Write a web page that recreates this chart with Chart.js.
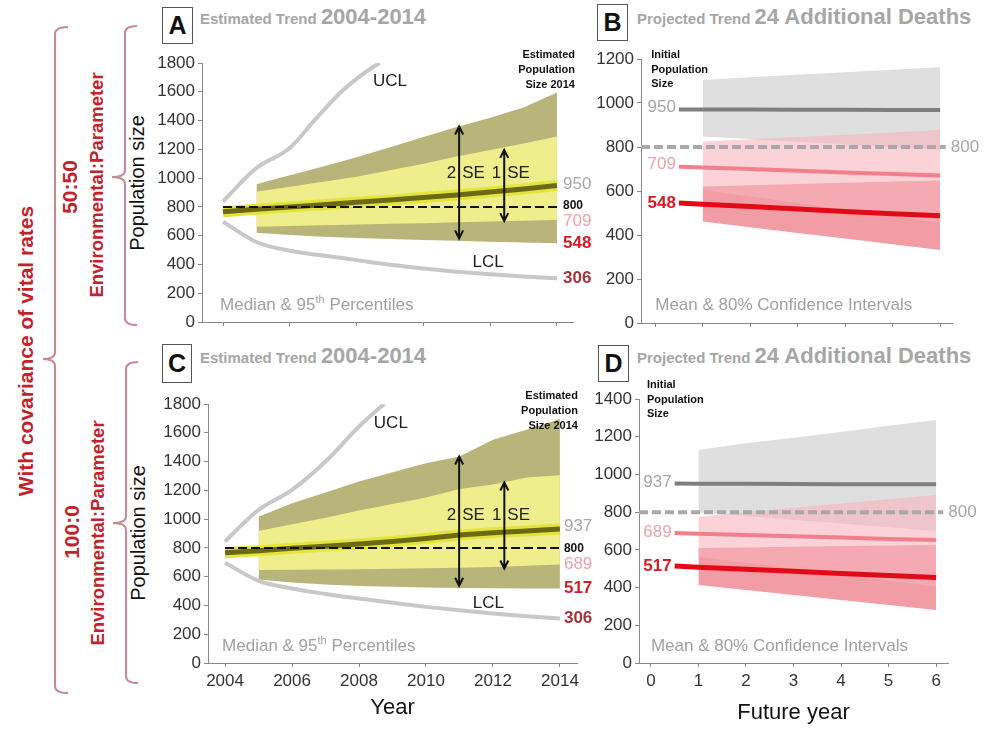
<!DOCTYPE html>
<html>
<head>
<meta charset="utf-8">
<script src="https://cdn.jsdelivr.net/npm/chart.js@4.4.1/dist/chart.umd.min.js"></script>
<style>
body { margin: 0; background: #fff; width: 990px; height: 735px; position: relative; overflow: hidden; font-family: "Liberation Sans", Arial, sans-serif; }
.pane { position: absolute; }
.box { position: absolute; border: 1.5px solid #555; box-sizing: border-box; font-weight: bold; font-size: 25px; color: #111; display: flex; align-items: center; justify-content: center; }
.ttl { position: absolute; color: #a6a6a6; font-weight: bold; white-space: nowrap; line-height: 26px; }
.ttl .s { font-size: 15px; }
.ttl .b { font-size: 22px; }
.rot { position: absolute; white-space: nowrap; transform: translate(-50%, -50%) rotate(-90deg); }
.red { color: #c0232c; font-weight: bold; }
</style>
</head>
<body>

<svg class="pane" style="left:0;top:0" width="160" height="735">
  <g fill="none" stroke="#c98a8f" stroke-width="2">
    <path d="M68 27 Q55 27 55 34 L55 352 Q55 359 43 359 Q55 359 55 366 L55 686 Q55 693 68 693"/>
    <path d="M137 26 Q125 26 125 33 L125 170 Q125 177 112 177 Q125 177 125 184 L125 318 Q125 325 137 325"/>
    <path d="M138 362 Q126 362 126 369 L126 516 Q126 523 113 523 Q126 523 126 530 L126 676 Q126 683 138 683"/>
  </g>
</svg>

<div class="rot red" style="left:26px;top:351px;font-size:21px">With covariance of vital rates</div>
<div class="rot red" style="left:70px;top:187px;font-size:21px">50:50</div>
<div class="rot red" style="left:97px;top:185px;font-size:18.5px">Environmental:Parameter</div>
<div class="rot red" style="left:72px;top:532px;font-size:21px">100:0</div>
<div class="rot red" style="left:98px;top:533px;font-size:18.5px">Environmental:Parameter</div>
<div class="rot" style="left:137px;top:183px;font-size:20px;color:#111">Population size</div>
<div class="rot" style="left:138px;top:533px;font-size:20px;color:#111">Population size</div>

<div class="box" style="left:162px;top:7px;width:31px;height:37px">A</div>
<div class="ttl" style="left:200px;top:4px"><span class="s">Estimated Trend </span><span class="b">2004-2014</span></div>
<div class="box" style="left:597px;top:4px;width:31px;height:37px">B</div>
<div class="ttl" style="left:637px;top:4px"><span class="s">Projected Trend </span><span class="b">24 Additional Deaths</span></div>
<div class="box" style="left:162px;top:344px;width:30px;height:39px">C</div>
<div class="ttl" style="left:200px;top:343px"><span class="s">Estimated Trend </span><span class="b">2004-2014</span></div>
<div class="box" style="left:598px;top:345px;width:31px;height:37px">D</div>
<div class="ttl" style="left:637px;top:343px"><span class="s">Projected Trend </span><span class="b">24 Additional Deaths</span></div>

<div class="pane" style="left:110px;top:44px"><canvas id="chartA" width="485" height="296"></canvas></div>
<div class="pane" style="left:595px;top:44px"><canvas id="chartB" width="395" height="296"></canvas></div>
<div class="pane" style="left:110px;top:380px"><canvas id="chartC" width="485" height="355"></canvas></div>
<div class="pane" style="left:595px;top:380px"><canvas id="chartD" width="395" height="355"></canvas></div>

<script>
const FONT = '"Liberation Sans", Arial, sans-serif';

// ---- Estimated trend panels (A, C) ----
const years = [2004, 2005, 2006, 2007, 2008, 2009, 2010, 2011, 2012, 2013, 2014];
const bandYears = [2005, 2006, 2007, 2008, 2009, 2010, 2011, 2012, 2013, 2014];
const yearTicks = [2004, 2006, 2008, 2010, 2012, 2014];

const medianA = [766, 783, 800, 815, 832, 848, 865, 882, 903, 925, 948];
const outerHiA = [957, 1020, 1080, 1145, 1215, 1285, 1355, 1420, 1490, 1595];
const innerHiA = [906, 940, 975, 1010, 1055, 1100, 1150, 1195, 1240, 1289];
const innerLoA = [662, 667, 672, 677, 682, 687, 693, 698, 703, 709];
const outerLoA = [620, 605, 592, 583, 576, 570, 565, 558, 552, 547];
const uclYearsA = [2004, 2004.5, 2005, 2006, 2006.8, 2007.6, 2008.5, 2008.7];
const uclA = [836, 960, 1070, 1210, 1418, 1612, 1774, 1800];
const lclA = [697, 556, 495, 462, 430, 398, 372, 350, 332, 316, 304];
const seXA = [2011.07, 2012.42];
const seLoA = [581, 701];
const seHiA = [1359, 1196];

const medianC = [766, 780, 797, 812, 827, 845, 866, 890, 906, 918, 932];
const outerHiC = [1017, 1110, 1185, 1261, 1325, 1389, 1435, 1551, 1621, 1695];
const innerHiC = [917, 965, 1010, 1060, 1105, 1150, 1210, 1240, 1290, 1305];
const innerLoC = [646, 648, 650, 652, 655, 658, 662, 668, 676, 685];
const outerLoC = [580, 560, 545, 535, 530, 525, 521, 519, 517, 517];
const uclYearsC = [2004, 2004.5, 2005, 2006, 2007, 2008, 2008.75];
const uclC = [843, 960, 1064, 1203, 1400, 1644, 1800];
const lclC = [697, 571, 518, 480, 448, 418, 390, 366, 344, 325, 309];
const seXC = [2010.99, 2012.34];
const seLoC = [537, 657];
const seHiC = [1435, 1254];

// ---- Projected trend panels (B, D) ----
const futureTicks = [0, 1, 2, 3, 4, 5, 6];
const bandX = [1, 2, 3, 4, 5, 6];
const lineX = [0.5, 1, 2, 3, 4, 5, 6];

const greyMeanB = [970, 970, 970, 969, 969, 968, 968];
const pinkMeanB = [710, 707, 700, 692, 684, 677, 670];
const redMeanB = [545, 540, 529, 518, 507, 497, 487];
const greyHiB = [1105, 1117, 1128, 1140, 1151, 1163];
const greyLoB = [848, 836, 824, 812, 800, 788];
const pinkHiB = [824, 835, 845, 856, 866, 877];
const pinkLoB = [605, 575, 545, 515, 485, 455];
const redHiB = [620, 626, 632, 637, 643, 648];
const redLoB = [461, 435, 409, 384, 358, 332];

const greyMeanD = [952, 951, 950, 949, 948, 948, 948];
const pinkMeanD = [690, 686, 679, 672, 665, 658, 652];
const redMeanD = [515, 508, 497, 486, 475, 464, 454];
const greyHiD = [1129, 1165, 1195, 1225, 1258, 1289];
const greyLoD = [800, 780, 760, 740, 720, 700];
const pinkHiD = [776, 800, 823, 846, 868, 891];
const pinkLoD = [564, 532, 500, 468, 437, 405];
const redHiD = [610, 613, 616, 620, 623, 626];
const redLoD = [414, 387, 361, 334, 308, 281];

const threshold = 800;

// draws arrows and text labels placed through the chart scales
const notesPlugin = {
    id: 'notes',
    afterDatasetsDraw(chart, args, opts) {
        const { ctx } = chart;
        const sx = chart.scales.x, sy = chart.scales.y;
        ctx.save();
        ctx.strokeStyle = '#111';
        ctx.lineWidth = 2;
        (opts.arrows || []).forEach(a => {
            const px = sx.getPixelForValue(a.x);
            const top = sy.getPixelForValue(a.hi);
            const bot = sy.getPixelForValue(a.lo);
            ctx.beginPath();
            ctx.moveTo(px, top + 1);
            ctx.lineTo(px, bot - 1);
            ctx.moveTo(px - 4, top + 8); ctx.lineTo(px, top); ctx.lineTo(px + 4, top + 8);
            ctx.moveTo(px - 4, bot - 8); ctx.lineTo(px, bot); ctx.lineTo(px + 4, bot - 8);
            ctx.stroke();
        });
        ctx.textBaseline = 'middle';
        (opts.texts || []).forEach(t => {
            let px = sx.getPixelForValue(t.x) + (t.dx || 0);
            const py = sy.getPixelForValue(t.y) + (t.dy || 0);
            ctx.fillStyle = t.color || '#222';
            ctx.textAlign = t.align || 'left';
            if (t.parts) {
                ctx.textAlign = 'left';
                t.parts.forEach(p => {
                    ctx.font = p.font + ' ' + FONT;
                    ctx.fillText(p.s, px, py + (p.dy || 0));
                    px += ctx.measureText(p.s).width;
                });
            } else {
                ctx.font = t.font + ' ' + FONT;
                ctx.fillText(t.text, px, py);
            }
        });
        ctx.restore();
    }
};

const pts = (xs, ys) => xs.map((x, i) => ({ x: x, y: ys[i] }));

function series(xs, ys, extra) {
    return Object.assign({ data: pts(xs, ys), pointRadius: 0, borderWidth: 0, fill: false }, extra);
}

function xScale(min, max, ticks, showLabels, height, title, titlePad) {
    return {
        type: 'linear', min: min, max: max,
        afterBuildTicks: s => { s.ticks = ticks.map(v => ({ value: v })); },
        afterFit: s => { s.height = height; },
        ticks: {
            autoSkip: false, maxRotation: 0, padding: 4,
            callback: v => showLabels ? String(v) : '',
            font: { size: 17, family: FONT }, color: '#333'
        },
        grid: { drawOnChartArea: false, tickLength: 4, color: '#888' },
        border: { color: '#888', width: 1 },
        title: {
            display: !!title, text: title || '', color: '#111',
            font: { size: 22, family: FONT }, padding: { top: 0, bottom: titlePad || 0 }
        }
    };
}

function yScale(max, width) {
    return {
        min: 0, max: max,
        afterFit: s => { s.width = width; },
        ticks: { stepSize: 200, padding: 3, callback: v => String(v), font: { size: 17, family: FONT }, color: '#333' },
        grid: { drawOnChartArea: false, tickLength: 4, color: '#888' },
        border: { color: '#888', width: 1 }
    };
}

function trendChart(id, d) {
    const datasets = [
        series([years[0], years[years.length - 1]], [threshold, threshold], { borderColor: '#111', borderWidth: 2, borderDash: [9, 4] }),
        series(years, d.median, { borderColor: '#6b6914', borderWidth: 5 }),
        series(years, d.median, { borderColor: '#e4e43c', borderWidth: 11 }),
        series(d.uclYears, d.ucl, { borderColor: '#c8c8c8', borderWidth: 4, cubicInterpolationMode: 'monotone' }),
        series(years, d.lcl, { borderColor: '#c8c8c8', borderWidth: 4, cubicInterpolationMode: 'monotone' }),
        series(bandYears, d.innerHi, { backgroundColor: '#eeee8c', fill: '+1' }),
        series(bandYears, d.innerLo, {}),
        series(bandYears, d.outerHi, { backgroundColor: '#b7b57a', fill: '+1' }),
        series(bandYears, d.outerLo, {})
    ];
    return new Chart(document.getElementById(id), {
        type: 'line',
        data: { datasets: datasets },
        plugins: [notesPlugin],
        options: {
            responsive: false, animation: false, events: [],
            layout: { padding: d.pad },
            scales: { x: d.x, y: yScale(1800, d.yWidth) },
            plugins: { legend: { display: false }, tooltip: { enabled: false }, notes: d.notes }
        }
    });
}

function trendNotes(seX, seLo, seHi, seY, right, labelX, uclPos, lclPos) {
    const texts = [
        { x: seX[0], dx: -3, y: seY, text: '2', align: 'right', font: '17px' },
        { x: seX[0], dx: 3, y: seY, text: 'SE', font: '17px' },
        { x: seX[1], dx: -3, y: seY, text: '1', align: 'right', font: '17px' },
        { x: seX[1], dx: 3, y: seY, text: 'SE', font: '17px' },
        { x: uclPos[0], y: uclPos[1], text: 'UCL', align: 'center', font: '17px' },
        { x: lclPos[0], y: lclPos[1], text: 'LCL', align: 'center', font: '17px' },
        { x: 2004, dx: -3, y: 118, color: '#a0a0a0', parts: [
            { s: 'Median & 95', font: '17px' }, { s: 'th', font: '11px', dy: -5 }, { s: ' Percentiles', font: '17px' }] },
        { x: 2014, dx: 18, y: 1800, dy: -8, text: 'Estimated', align: 'right', font: 'bold 11px', color: '#111' },
        { x: 2014, dx: 18, y: 1800, dy: 7, text: 'Population', align: 'right', font: 'bold 11px', color: '#111' },
        { x: 2014, dx: 18, y: 1800, dy: 22, text: 'Size 2014', align: 'right', font: 'bold 11px', color: '#111' }
    ];
    right.forEach(r => texts.push(Object.assign({ x: 2014, dx: labelX }, r)));
    return {
        arrows: seX.map((x, i) => ({ x: x, lo: seLo[i], hi: seHi[i] })),
        texts: texts
    };
}

trendChart('chartA', {
    median: medianA, outerHi: outerHiA, innerHi: innerHiA, innerLo: innerLoA, outerLo: outerLoA,
    uclYears: uclYearsA, ucl: uclA, lcl: lclA,
    pad: { top: 19, right: 22, left: 0, bottom: 0 }, yWidth: 92,
    x: xScale(2003.37, 2014.48, yearTicks, false, 18),
    notes: trendNotes(seXA, seLoA, seHiA, 1034, [
        { y: 955, text: '950', font: '17px', color: '#a6a6a6' },
        { y: 805, text: '800', font: 'bold 12px', color: '#111' },
        { y: 697, text: '709', font: '17px', color: '#e9a3aa' },
        { y: 547, text: '548', font: 'bold 17px', color: '#d71a28' },
        { y: 304, text: '306', font: 'bold 17px', color: '#a3343b' }
    ], 6, [2009.0, 1672], [2011.94, 418])
});

trendChart('chartC', {
    median: medianC, outerHi: outerHiC, innerHi: innerHiC, innerLo: innerLoC, outerLo: outerLoC,
    uclYears: uclYearsC, ucl: uclC, lcl: lclC,
    pad: { top: 24, right: 18, left: 0, bottom: 0 }, yWidth: 98,
    x: xScale(2003.49, 2014.51, yearTicks, true, 72, 'Year', 14),
    notes: trendNotes(seXC, seLoC, seHiC, 1029, [
        { y: 947, text: '937', font: '17px', color: '#a6a6a6' },
        { y: 797, text: '800', font: 'bold 12px', color: '#111' },
        { y: 688, text: '689', font: '17px', color: '#e9a3aa' },
        { y: 519, text: '517', font: 'bold 17px', color: '#d71a28' },
        { y: 311, text: '306', font: 'bold 17px', color: '#a3343b' }
    ], 4, [2008.95, 1668], [2011.86, 413])
});

function projChart(id, d) {
    const datasets = [
        series(lineX, d.redMean, { borderColor: '#e30a17', borderWidth: 5 }),
        series(lineX, d.pinkMean, { borderColor: '#f2808a', borderWidth: 4 }),
        series(lineX, d.greyMean, { borderColor: '#7f7f7f', borderWidth: 4 }),
        series(d.dashX, [threshold, threshold], { borderColor: '#a9a9a9', borderWidth: 4, borderDash: [9, 4] }),
        series(bandX, d.pinkHi, { backgroundColor: 'rgba(247,180,188,0.6)', fill: '+1' }),
        series(bandX, d.pinkLo, {}),
        series(bandX, d.redHi, { backgroundColor: '#f29ca5', fill: '+1' }),
        series(bandX, d.redLo, {}),
        series(bandX, d.greyHi, { backgroundColor: '#dfdfdf', fill: '+1' }),
        series(bandX, d.greyLo, {})
    ];
    return new Chart(document.getElementById(id), {
        type: 'line',
        data: { datasets: datasets },
        plugins: [notesPlugin],
        options: {
            responsive: false, animation: false, events: [],
            layout: { padding: d.pad },
            scales: { x: d.x, y: yScale(d.yMax, d.yWidth) },
            plugins: { legend: { display: false }, tooltip: { enabled: false }, notes: d.notes }
        }
    });
}

function projNotes(yMax, headDy, textY, labels) {
    const texts = [
        { x: 0, dx: -4, y: yMax, dy: headDy, text: 'Initial', font: 'bold 11px', color: '#111' },
        { x: 0, dx: -4, y: yMax, dy: headDy + 15, text: 'Population', font: 'bold 11px', color: '#111' },
        { x: 0, dx: -4, y: yMax, dy: headDy + 29, text: 'Size', font: 'bold 11px', color: '#111' },
        { x: 0, dx: 0, y: textY, text: 'Mean & 80% Confidence Intervals', font: '17px', color: '#a0a0a0' }
    ];
    labels.forEach(l => texts.push(l));
    return { texts: texts };
}

projChart('chartB', {
    redMean: redMeanB, pinkMean: pinkMeanB, greyMean: greyMeanB,
    pinkHi: pinkHiB, pinkLo: pinkLoB, redHi: redHiB, redLo: redLoB, greyHi: greyHiB, greyLo: greyLoB,
    dashX: [-0.3, 6.12], yMax: 1200, yWidth: 46,
    pad: { top: 15, right: 38, left: 0, bottom: 0 },
    x: xScale(-0.3, 6.25, futureTicks, false, 17),
    notes: projNotes(1200, -4, 82, [
        { x: 0.5, dx: -3, y: 980, text: '950', align: 'right', font: '17px', color: '#a6a6a6' },
        { x: 0.5, dx: -3, y: 720, text: '709', align: 'right', font: '17px', color: '#e9a3aa' },
        { x: 0.5, dx: -3, y: 546, text: '548', align: 'right', font: 'bold 17px', color: '#d71a28' },
        { x: 6.12, dx: 5, y: 800, text: '800', font: '17px', color: '#a6a6a6' }
    ])
});

projChart('chartD', {
    redMean: redMeanD, pinkMean: pinkMeanD, greyMean: greyMeanD,
    pinkHi: pinkHiD, pinkLo: pinkLoD, redHi: redHiD, redLo: redLoD, greyHi: greyHiD, greyLo: greyLoD,
    dashX: [-0.25, 6.15], yMax: 1400, yWidth: 44,
    pad: { top: 19, right: 42, left: 0, bottom: 0 },
    x: xScale(-0.25, 6.25, futureTicks, true, 72, 'Future year', 9),
    notes: projNotes(1400, -14, 90, [
        { x: 0.5, dx: -3, y: 956, text: '937', align: 'right', font: '17px', color: '#a6a6a6' },
        { x: 0.5, dx: -3, y: 691, text: '689', align: 'right', font: '17px', color: '#e9a3aa' },
        { x: 0.5, dx: -3, y: 514, text: '517', align: 'right', font: 'bold 17px', color: '#d71a28' },
        { x: 6.15, dx: 5, y: 800, text: '800', font: '17px', color: '#a6a6a6' }
    ])
});
</script>
</body>
</html>
